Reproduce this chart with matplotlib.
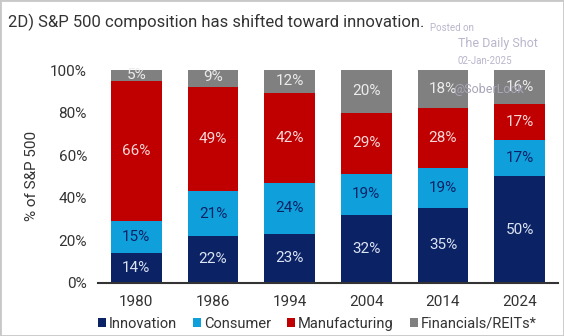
import numpy as np
import matplotlib.pyplot as plt
from matplotlib.patches import Rectangle

plt.rcParams['font.family'] = ['Roboto', 'DejaVu Sans']

years = ['1980', '1986', '1994', '2004', '2014', '2024']
innovation = [14, 22, 23, 32, 35, 50]
consumer = [15, 21, 24, 19, 19, 17]
manufacturing = [66, 49, 42, 29, 28, 17]
financials = [5, 9, 12, 20, 18, 16]

series = [
    ('Innovation', innovation, '#0b2265', '#dce4f2'),
    ('Consumer', consumer, '#0fa0dc', '#0b2265'),
    ('Manufacturing', manufacturing, '#c00000', '#f6d8d8'),
    ('Financials/REITs*', financials, '#808080', '#ececec'),
]

fig = plt.figure(figsize=(5.64, 3.36), dpi=100)
ax = fig.add_axes([98 / 564, 1 - 282.7 / 336, 460 / 564, 212.7 / 336])

x = np.arange(len(years))
bottom = np.zeros(len(years))
for name, vals, color, tcolor in series:
    vals = np.array(vals, dtype=float)
    ax.bar(x, vals, bottom=bottom, width=0.665, color=color, label=name)
    for xi, b, v in zip(x, bottom, vals):
        ax.text(xi, b + v / 2, f'{int(v)}%', ha='center', va='center',
                fontsize=11, color=tcolor)
    bottom += vals

ax.set_xlim(-0.5, 5.5)
ax.set_ylim(0, 100)
ax.set_xticks(x)
ax.set_xticklabels(years, fontsize=11, color='#333333')
ax.set_yticks(np.arange(0, 101, 20))
ax.set_yticklabels([f'{v}%' for v in range(0, 101, 20)], fontsize=11, color='#333333')
ax.tick_params(length=0, pad=8)
ax.tick_params(axis='x', pad=9)
for s in ['top', 'right', 'left']:
    ax.spines[s].set_visible(False)
ax.spines['bottom'].set_color('#333333')
ax.spines['bottom'].set_linewidth(1.5)
ax.set_ylabel('% of S&P 500', fontsize=11, color='#333333', labelpad=8)

fig.text(8 / 564, 1 - 22 / 336, '2D) S&P 500 composition has shifted toward innovation.',
         fontsize=12, color='#333333', va='center', ha='left')

# watermark
wm = '#b9b6cc'
fig.text(430 / 564, 1 - 28 / 336, 'Posted on', fontsize=7, color=wm, va='center')
fig.text(458 / 564, 1 - 44 / 336, 'The Daily Shot', fontsize=9, color=wm, va='center')
fig.text(458 / 564, 1 - 61 / 336, '02-Jan-2025', fontsize=7, color=wm, va='center')
fig.text(453 / 564, 1 - 90 / 336, '@SoberLook', fontsize=9, color='#a8a6b8', va='center')

leg = fig.legend(loc='center', bbox_to_anchor=(317 / 564, 1 - 324 / 336), ncol=4,
                 frameon=False, fontsize=10.5, handlelength=0.55, handleheight=0.55,
                 handletextpad=0.2, columnspacing=1.1)
for t in leg.get_texts():
    t.set_color('#333333')

fig.add_artist(Rectangle((0, 0), 1, 1, transform=fig.transFigure, fill=False,
                         edgecolor='#c8c8c8', linewidth=2))

fig.savefig('out.png', dpi=100)
